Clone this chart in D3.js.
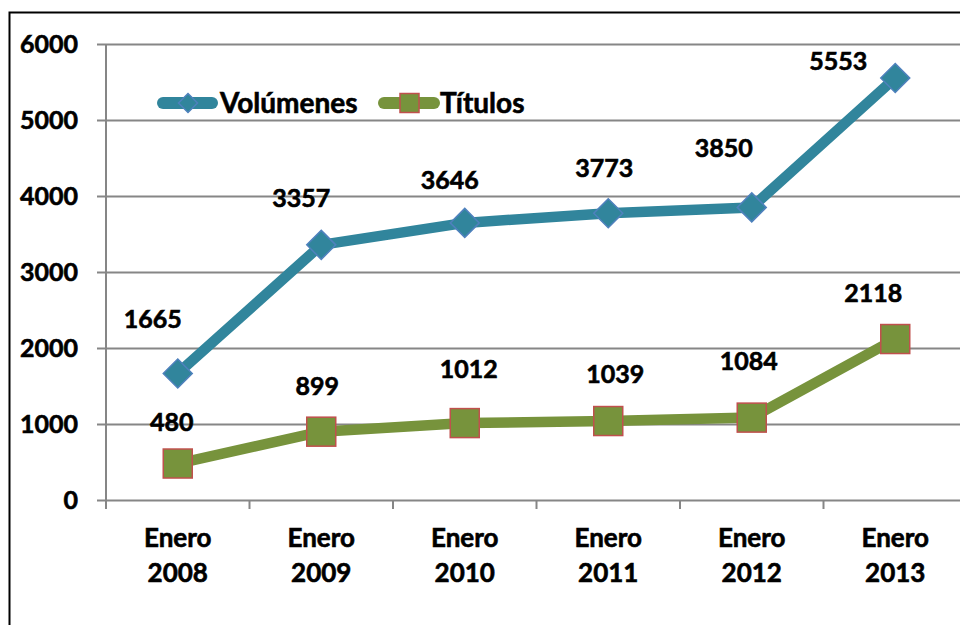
<!DOCTYPE html>
<html lang="es">
<head>
<meta charset="UTF-8">
<title>Volúmenes y Títulos</title>
<script src="https://d3js.org/d3.v7.min.js"></script>
<style>
  body { margin: 0; background: #fff; }
  svg { display: block; font-family: Lato, "Open Sans", sans-serif; font-weight: bold; }
  svg text { stroke: #000; stroke-width: 0.6px; }
</style>
</head>
<body>
<svg id="chart" width="960" height="625"></svg>
<script>
// data
const categories = ["Enero 2008", "Enero 2009", "Enero 2010", "Enero 2011", "Enero 2012", "Enero 2013"];
const volumenes = [1665, 3357, 3646, 3773, 3850, 5553];
const titulos = [480, 899, 1012, 1039, 1084, 2118];
const yTicks = [0, 1000, 2000, 3000, 4000, 5000, 6000];

// manual label nudges (dx, dy from the point), like the hand-moved Excel labels
const volLabelShift = [[-25, -45], [-20, -38], [-15, -34], [-4, -36], [-28, -50], [-57, -8]];
const titLabelShift = [[-6, -33], [-4, -37], [4, -45], [7, -38], [-3, -48], [-22, -37]];

const teal = "#31859C", blueEdge = "#4F81BD", green = "#77933C", redEdge = "#C0504D", gridCol = "#868686";

const svg = d3.select("#chart");

// outer frame (right and bottom fall outside the window)
svg.append("rect")
  .attr("x", 9.5).attr("y", 12.5)
  .attr("width", 1000).attr("height", 1000)
  .attr("fill", "none").attr("stroke", "#000").attr("stroke-width", 2);

const plotL = 106, plotR = 967, plotT = 44, plotB = 500;

const x = d3.scaleBand().domain(categories).range([plotL, plotR]).padding(0);
const y = d3.scaleLinear().domain([0, 6000]).range([plotB, plotT]);
const cx = d => x(d) + x.bandwidth() / 2;

// y axis + gridlines
const yAxis = svg.append("g")
  .attr("transform", `translate(${plotL - 9},0)`)
  .call(d3.axisLeft(y).tickValues(yTicks).tickFormat(d3.format("d"))
    .tickSizeInner(-(plotR - plotL + 9)).tickSizeOuter(0).tickPadding(19));
yAxis.select(".domain").remove();
yAxis.selectAll(".tick line").attr("stroke", gridCol).attr("stroke-width", 2);
yAxis.selectAll(".tick text")
  .attr("font-size", 25).attr("font-family", "Lato, sans-serif")
  .attr("font-weight", "bold").attr("fill", "#000");

// vertical axis line
svg.append("line")
  .attr("x1", plotL).attr("x2", plotL)
  .attr("y1", y(6000)).attr("y2", plotB + 9)
  .attr("stroke", gridCol).attr("stroke-width", 2);

// category tick marks at band edges
const edges = categories.map(c => x(c)).concat([x(categories[categories.length - 1]) + x.bandwidth()]);
svg.append("g").selectAll("line").data(edges).join("line")
  .attr("x1", d => d).attr("x2", d => d)
  .attr("y1", plotB).attr("y2", plotB + 9)
  .attr("stroke", gridCol).attr("stroke-width", 2);

// category labels (two lines)
const catText = svg.append("g").selectAll("text").data(categories).join("text")
  .attr("text-anchor", "middle").attr("font-size", 26).attr("fill", "#000");
catText.selectAll("tspan").data(d => d.split(" ").map(s => ({ s, c: d }))).join("tspan")
  .attr("x", d => cx(d.c))
  .attr("y", (d, i) => i === 0 ? 547 : 582)
  .text(d => d.s);

// lines
const line = d3.line().x((d, i) => cx(categories[i])).y(d => y(d));

svg.append("path").datum(volumenes)
  .attr("d", line).attr("fill", "none")
  .attr("stroke", teal).attr("stroke-width", 10.5).attr("stroke-linejoin", "round");

svg.append("path").datum(titulos)
  .attr("d", line).attr("fill", "none")
  .attr("stroke", green).attr("stroke-width", 10.5).attr("stroke-linejoin", "round");

// markers
const diamond = r => `M0,${-r}L${r},0L0,${r}L${-r},0Z`;

svg.append("g").selectAll("path").data(volumenes).join("path")
  .attr("transform", (d, i) => `translate(${cx(categories[i])},${y(d)})`)
  .attr("d", diamond(14.5))
  .attr("fill", teal).attr("stroke", blueEdge).attr("stroke-width", 1.5);

svg.append("g").selectAll("rect").data(titulos).join("rect")
  .attr("x", (d, i) => cx(categories[i]) - 14.5)
  .attr("y", d => y(d) - 14.5)
  .attr("width", 29).attr("height", 29)
  .attr("fill", green).attr("stroke", redEdge).attr("stroke-width", 1.5);

// data labels
function labels(values, shifts) {
  svg.append("g").selectAll("text").data(values).join("text")
    .attr("x", (d, i) => cx(categories[i]) + shifts[i][0])
    .attr("y", (d, i) => y(d) + shifts[i][1])
    .attr("text-anchor", "middle").attr("font-size", 25).attr("fill", "#000")
    .text(d => d);
}
labels(volumenes, volLabelShift);
labels(titulos, titLabelShift);

// legend
const legend = svg.append("g").attr("transform", "translate(0,103)");
legend.append("line").attr("x1", 163).attr("x2", 212)
  .attr("stroke", teal).attr("stroke-width", 12).attr("stroke-linecap", "round");
legend.append("path").attr("transform", "translate(188,0)").attr("d", diamond(9.5))
  .attr("fill", teal).attr("stroke", blueEdge).attr("stroke-width", 1.5);
legend.append("text").attr("x", 220).attr("y", 10)
  .attr("font-size", 28).attr("fill", "#000").text("Volúmenes");

legend.append("line").attr("x1", 384).attr("x2", 434)
  .attr("stroke", green).attr("stroke-width", 12).attr("stroke-linecap", "round");
legend.append("rect").attr("x", 400).attr("y", -9.5).attr("width", 19).attr("height", 19)
  .attr("fill", green).attr("stroke", redEdge).attr("stroke-width", 1.5);
legend.append("text").attr("x", 440).attr("y", 10)
  .attr("font-size", 28).attr("fill", "#000").text("Títulos");
</script>
</body>
</html>
